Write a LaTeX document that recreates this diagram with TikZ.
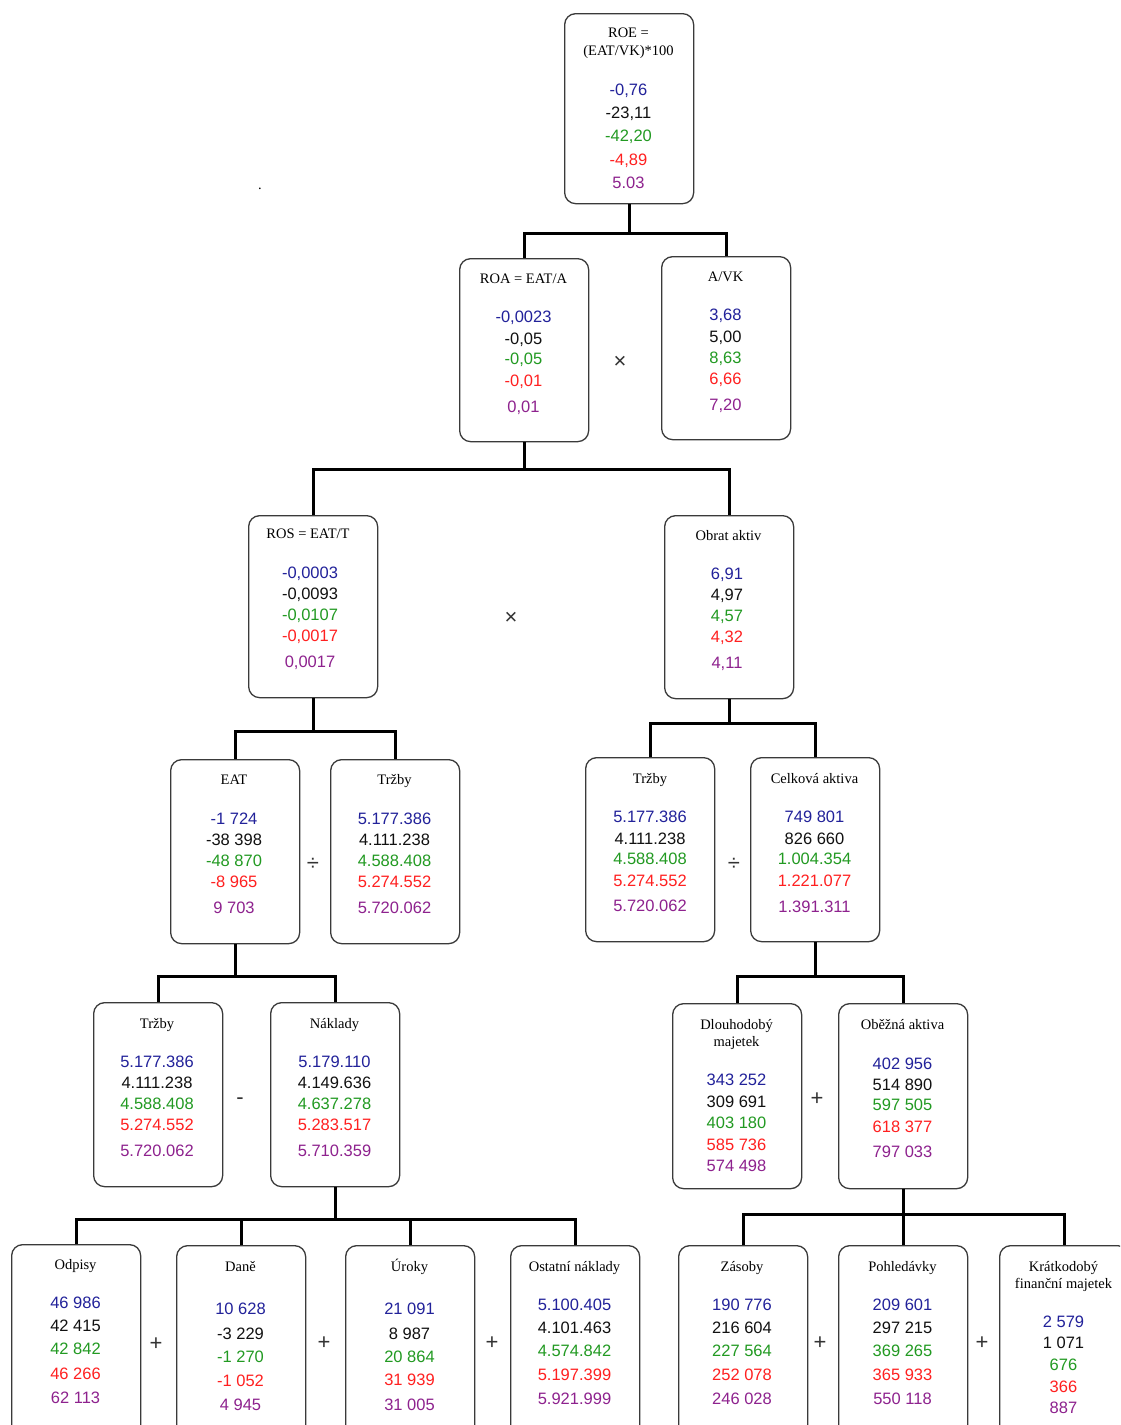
\documentclass[tikz,border=0pt]{standalone}
\usepackage{fontspec}
\setmainfont{Liberation Serif}
\newfontfamily\numfont{Liberation Sans}
\usepackage{xcolor}
\usepackage{tikz}
\definecolor{yr1}{HTML}{22229A}
\definecolor{yr2}{HTML}{111111}
\definecolor{yr3}{HTML}{229A22}
\definecolor{yr4}{HTML}{FF2020}
\definecolor{yr5}{HTML}{8E228E}
\definecolor{frame}{HTML}{3A3A3A}
\definecolor{opc}{HTML}{333333}
\tikzset{
  box/.style={draw=frame, line width=1.3pt, rounded corners=11pt, fill=white, anchor=north west,
    minimum width=129pt, inner sep=0pt},
  ttl/.style={font=\fontsize{14.5}{16}\selectfont, text height=9.6pt, text depth=0pt, inner sep=0pt},
  val/.style={font=\numfont\fontsize{16.5}{18}\selectfont, text height=11.8pt, text depth=0pt, inner sep=0pt},
  op/.style={font=\numfont\fontsize{22}{24}\selectfont, text=opc, inner sep=0pt},
  conn/.style={draw=black, line width=3pt},
}

\begin{document}
\begin{tikzpicture}[x=1pt, y=-1pt]
  \useasboundingbox (0,0) rectangle (1120,1425);
  \fill[white] (0,0) rectangle (1120,1425);
  \clip (0,0) rectangle (1120,1425);
  % level 1
  \node[box, minimum height=190pt] (roe) at (564,13) {};
  \node[ttl] (roeT1) at (628.5,33) {ROE =};
  \node[ttl] (roeT2) at (628.5,51) {(EAT/VK)*100};
  \foreach \v/\y [count=\i] in {{-0,76}/90, {-23,11}/113, {-42,20}/136, {-4,89}/160, {5.03}/183}
    \node[val, text=yr\i] (roeV\i) at (628.5,\y) {\v};
  \node[ttl] (dot) at (260,185) {.};
  % level 2
  \node[box, minimum height=183pt] (roa) at (459,258) {};
  \node[ttl] (roaT) at (523.5,279) {ROA = EAT/A};
  \foreach \v/\y [count=\i] in {{-0,0023}/317, {-0,05}/339, {-0,05}/359, {-0,01}/381, {0,01}/407}
    \node[val, text=yr\i] (roaV\i) at (523.5,\y) {\v};
  \node[box, minimum height=183pt] (avk) at (661,256) {};
  \node[ttl] (avkT) at (725.5,277) {A/VK};
  \foreach \v/\y [count=\i] in {{3,68}/315, {5,00}/337, {8,63}/358, {6,66}/379, {7,20}/405}
    \node[val, text=yr\i] (avkV\i) at (725.5,\y) {\v};
  \node[op] (opA) at (620,362) {×};
  % level 3
  \node[box, minimum height=182pt] (ros) at (248,515) {};
  \node[ttl] (rosT) at (308,534) {ROS = EAT/T};
  \foreach \v/\y [count=\i] in {{-0,0003}/573, {-0,0093}/594, {-0,0107}/615, {-0,0017}/636, {0,0017}/662}
    \node[val, text=yr\i] (rosV\i) at (310,\y) {\v};
  \node[box, minimum height=183pt] (obr) at (664,515) {};
  \node[ttl] (obrT) at (728.5,536) {Obrat aktiv};
  \foreach \v/\y [count=\i] in {{6,91}/574, {4,97}/595, {4,57}/616, {4,32}/637, {4,11}/663}
    \node[val, text=yr\i] (obrV\i) at (727,\y) {\v};
  \node[op] (opB) at (511,618) {×};
  % level 4
  \node[box, minimum height=184pt] (eat) at (170,759) {};
  \node[ttl] (eatT) at (234,780) {EAT};
  \foreach \v/\y [count=\i] in {{-1 724}/819, {-38 398}/840, {-48 870}/861, {-8 965}/882, {9 703}/908}
    \node[val, text=yr\i] (eatV\i) at (234,\y) {\v};
  \node[box, minimum height=184pt] (trA) at (330,759) {};
  \node[ttl] (trAT) at (394.5,780) {Tržby};
  \foreach \v/\y [count=\i] in {{5.177.386}/819, {4.111.238}/840, {4.588.408}/861, {5.274.552}/882, {5.720.062}/908}
    \node[val, text=yr\i] (trAV\i) at (394.5,\y) {\v};
  \node[op] (opC) at (313,864) {÷};
  \node[box, minimum height=184pt] (trB) at (585,757) {};
  \node[ttl] (trBT) at (650,779) {Tržby};
  \foreach \v/\y [count=\i] in {{5.177.386}/817, {4.111.238}/839, {4.588.408}/859, {5.274.552}/881, {5.720.062}/906}
    \node[val, text=yr\i] (trBV\i) at (650,\y) {\v};
  \node[box, minimum height=184pt] (cel) at (750,757) {};
  \node[ttl] (celT) at (814.5,779) {Celková aktiva};
  \foreach \v/\y [count=\i] in {{749 801}/817, {826 660}/839, {1.004.354}/859, {1.221.077}/881, {1.391.311}/907}
    \node[val, text=yr\i] (celV\i) at (814.5,\y) {\v};
  \node[op] (opD) at (734,864) {÷};
  % level 5
  \node[box, minimum height=184pt] (trC) at (93,1002) {};
  \node[ttl] (trCT) at (157,1024) {Tržby};
  \foreach \v/\y [count=\i] in {{5.177.386}/1062, {4.111.238}/1083, {4.588.408}/1104, {5.274.552}/1125, {5.720.062}/1151}
    \node[val, text=yr\i] (trCV\i) at (157,\y) {\v};
  \node[box, minimum height=184pt] (nak) at (270,1002) {};
  \node[ttl] (nakT) at (334.5,1024) {Náklady};
  \foreach \v/\y [count=\i] in {{5.179.110}/1062, {4.149.636}/1083, {4.637.278}/1104, {5.283.517}/1125, {5.710.359}/1151}
    \node[val, text=yr\i] (nakV\i) at (334.5,\y) {\v};
  \node[op] (opE) at (240,1101) {-};
  \node[box, minimum height=185pt] (dlo) at (672,1003) {};
  \node[ttl] (dloT1) at (736.5,1025) {Dlouhodobý};
  \node[ttl] (dloT2) at (736.5,1042) {majetek};
  \foreach \v/\y [count=\i] in {{343 252}/1080, {309 691}/1102, {403 180}/1123, {585 736}/1145, {574 498}/1166}
    \node[val, text=yr\i] (dloV\i) at (736.5,\y) {\v};
  \node[box, minimum height=185pt] (obe) at (838,1003) {};
  \node[ttl] (obeT) at (902.5,1025) {Oběžná aktiva};
  \foreach \v/\y [count=\i] in {{402 956}/1064, {514 890}/1085, {597 505}/1105, {618 377}/1127, {797 033}/1152}
    \node[val, text=yr\i] (obeV\i) at (902.5,\y) {\v};
  \node[op] (opF) at (817,1099) {+};
  % level 6
  \node[box, minimum height=200pt] (odp) at (11,1244) {};
  \node[ttl] (odpT) at (75.5,1265) {Odpisy};
  \foreach \v/\y [count=\i] in {{46 986}/1303, {42 415}/1326, {42 842}/1349, {46 266}/1374, {62 113}/1398}
    \node[val, text=yr\i] (odpV\i) at (75.5,\y) {\v};
  \node[box, minimum height=200pt] (dan) at (176,1245) {};
  \node[ttl] (danT) at (240.5,1267) {Daně};
  \foreach \v/\y [count=\i] in {{10 628}/1309, {-3 229}/1334, {-1 270}/1357, {-1 052}/1381, {4 945}/1405}
    \node[val, text=yr\i] (danV\i) at (240.5,\y) {\v};
  \node[box, minimum height=200pt] (uro) at (345,1245) {};
  \node[ttl] (uroT) at (409.5,1267) {Úroky};
  \foreach \v/\y [count=\i] in {{21 091}/1309, {8 987}/1334, {20 864}/1357, {31 939}/1380, {31 005}/1405}
    \node[val, text=yr\i] (uroV\i) at (409.5,\y) {\v};
  \node[box, minimum height=200pt] (ost) at (510,1245) {};
  \node[ttl] (ostT) at (574.5,1267) {Ostatní náklady};
  \foreach \v/\y [count=\i] in {{5.100.405}/1305, {4.101.463}/1328, {4.574.842}/1351, {5.197.399}/1375, {5.921.999}/1399}
    \node[val, text=yr\i] (ostV\i) at (574.5,\y) {\v};
  \node[op] (opG) at (156,1344) {+};
  \node[op] (opH) at (324,1343) {+};
  \node[op] (opI) at (492,1343) {+};
  \node[box, minimum height=200pt] (zas) at (678,1245) {};
  \node[ttl] (zasT) at (742,1267) {Zásoby};
  \foreach \v/\y [count=\i] in {{190 776}/1305, {216 604}/1328, {227 564}/1351, {252 078}/1375, {246 028}/1399}
    \node[val, text=yr\i] (zasV\i) at (742,\y) {\v};
  \node[box, minimum height=200pt] (poh) at (838,1245) {};
  \node[ttl] (pohT) at (902.5,1267) {Pohledávky};
  \foreach \v/\y [count=\i] in {{209 601}/1305, {297 215}/1328, {369 265}/1351, {365 933}/1375, {550 118}/1399}
    \node[val, text=yr\i] (pohV\i) at (902.5,\y) {\v};
  \node[box, minimum height=200pt] (kra) at (999,1245) {};
  \node[ttl] (kraT1) at (1063.5,1267) {Krátkodobý};
  \node[ttl] (kraT2) at (1063.5,1284) {finanční majetek};
  \foreach \v/\y [count=\i] in {{2 579}/1322, {1 071}/1343, {676}/1365, {366}/1387, {887}/1408}
    \node[val, text=yr\i] (kraV\i) at (1063.5,\y) {\v};
  \node[op] (opJ) at (820,1343) {+};
  \node[op] (opK) at (982,1343) {+};
  % connectors
  \draw[conn] (roe.south) -- ++(0,29) coordinate (j1);
  \draw[conn] (roa.north) |- (j1) -| (avk.north);
  \draw[conn] (roa.south) -- ++(0,27) coordinate (j2);
  \draw[conn] (ros.north) |- (j2) -| (obr.north);
  \draw[conn] (ros.south) -- ++(0,33) coordinate (j3);
  \draw[conn] (eat.north) |- (j3) -| (trA.north);
  \draw[conn] (obr.south) -- ++(0,24) coordinate (j4);
  \draw[conn] (trB.north) |- (j4) -| (cel.north);
  \draw[conn] (eat.south) -- ++(0,32) coordinate (j5);
  \draw[conn] (trC.north) |- (j5) -| (nak.north);
  \draw[conn] (cel.south) -- ++(0,34) coordinate (j6);
  \draw[conn] (dlo.north) |- (j6) -| (obe.north);
  \draw[conn] (nak.south) -- ++(0,32) coordinate (j7);
  \draw[conn] (odp.north) |- (j7) -| (ost.north);
  \draw[conn] (dan.north) -- (dan.north |- j7);
  \draw[conn] (uro.north) -- (uro.north |- j7);
  \draw[conn] (obe.south) -- ++(0,25) coordinate (j8);
  \draw[conn] (zas.north) |- (j8) -| (kra.north);
  \draw[conn] (poh.north) -- (poh.north |- j8);
\end{tikzpicture}
\end{document}
